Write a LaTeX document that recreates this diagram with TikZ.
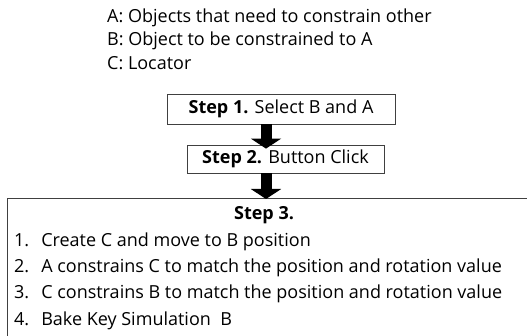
\documentclass[tikz,border=0pt]{standalone}
\usepackage{fontspec}
\setmainfont{Open Sans}
\usetikzlibrary{arrows.meta,positioning}

\newcommand{\diagfont}{\fontsize{18pt}{21pt}\selectfont}

\begin{document}
\begin{tikzpicture}[x=1pt, y=-1pt,
    stepbox/.style={rectangle, draw=black!75, line width=0.8pt, inner sep=0pt},
    keyline/.style={anchor=west, inner sep=0pt, font=\diagfont},
    item/.style={anchor=west, inner sep=0pt, font=\diagfont},
    blockarr/.style={line width=11pt, -{Triangle[width=30pt, length=10pt]}}
]
    \useasboundingbox (0,0) rectangle (527,336);
    \clip (0,0) rectangle (527,336);

    % key of the letters
    \node[keyline] (ka) at (107,18) {A: Objects that need to constrain other};
    \node[keyline] (kb) at (107,41) {B: Object to be constrained to A};
    \node[keyline] (kc) at (107,63) {C: Locator};

    % steps 1 and 2
    \node[stepbox, minimum width=228pt, minimum height=30pt, font=\diagfont]
        (s1) at (281,109) {\textbf{Step 1.} Select B and A};
    \node[stepbox, minimum width=197pt, minimum height=28pt, font=\diagfont]
        (s2) at (285.5,159) {\textbf{Step 2.} Button Click};

    % step 3 (cut off at the right and bottom)
    \node[stepbox, anchor=north west, minimum width=540pt, minimum height=160pt]
        (s3) at (7,198) {};
    \node[font=\diagfont\bfseries, inner sep=0pt] (t3) at (264,215) {Step 3.};
    \node[item] (i1) at (14,242) {1.\hspace{12pt}Create C and move to B position};
    \node[item] (i2) at (14,268) {2.\hspace{12pt}A constrains C to match the position and rotation value};
    \node[item] (i3) at (14,294) {3.\hspace{12pt}C constrains B to match the position and rotation value};
    \node[item] (i4) at (14,321) {4.\hspace{12pt}Bake Key Simulation\ \ B};

    % arrows
    \coordinate (ax) at (266,0);
    \draw[blockarr] (s1.south -| ax) -- ([yshift=-4pt]s2.north -| ax);
    \draw[blockarr] (s2.south -| ax) -- ([yshift=-1pt]s3.north -| ax);
\end{tikzpicture}
\end{document}
